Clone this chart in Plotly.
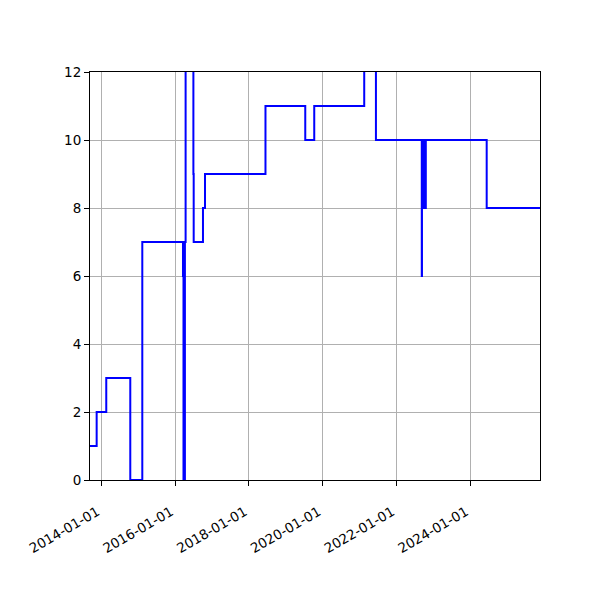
import plotly.graph_objects as go

# change points of the step series (value holds until next date)
change_dates = [
    "2013-09-11", "2013-11-16", "2014-02-19", "2014-10-15", "2015-02-11",
    "2016-03-20", "2016-03-25", "2016-04-08", "2016-04-15",
    "2016-07-01", "2016-07-04", "2016-10-04", "2016-10-24",
    "2018-06-15", "2019-07-14", "2019-10-11", "2021-02-17", "2021-06-13",
    "2022-09-10", "2022-09-12", "2022-09-15", "2022-09-19", "2022-09-22",
    "2022-09-26", "2022-09-29", "2022-10-03", "2022-10-06", "2022-10-10",
    "2022-10-13", "2022-10-17", "2022-10-20", "2022-10-23",
    "2024-06-14", "2025-11-24",
]
change_values = [
    1, 2, 3, 0, 7,
    6, 0, 7, 14,
    9, 7, 8, 9,
    11, 10, 11, 13, 10,
    6, 8, 10, 8, 10,
    8, 10, 8, 10, 8,
    10, 8, 10, 10,
    8, 8,
]

x_range = ["2013-09-11", "2025-11-24"]
y_range = [0, 12]
x_tick_vals = ["2014-01-01", "2016-01-01", "2018-01-01", "2020-01-01",
               "2022-01-01", "2024-01-01"]
x_tick_text = [d for d in x_tick_vals]
y_tick_vals = [0, 2, 4, 6, 8, 10, 12]

fig = go.Figure()
fig.add_trace(go.Scatter(
    x=change_dates, y=change_values, mode="lines",
    line=dict(color="#0000ff", width=2, shape="hv"),
    showlegend=False,
))

axis_common = dict(
    showline=True, mirror=True, linecolor="black", linewidth=1,
    showgrid=True, gridcolor="#b0b0b0", gridwidth=1,
    ticks="outside", ticklen=5, tickcolor="black", tickwidth=1,
    zeroline=False,
    tickfont=dict(family="DejaVu Sans", size=13.5, color="black"),
)

fig.update_layout(
    width=592, height=592,
    margin=dict(l=82, r=60, t=64, b=120),
    paper_bgcolor="white", plot_bgcolor="white",
    xaxis=dict(type="date", range=x_range, tickvals=x_tick_vals,
               ticktext=x_tick_text, tickangle=-30,
               ticklabelstandoff=13, ticklabelshift=-4, **axis_common),
    yaxis=dict(range=y_range, tickvals=y_tick_vals, **axis_common),
)

fig.write_html("out.html")
